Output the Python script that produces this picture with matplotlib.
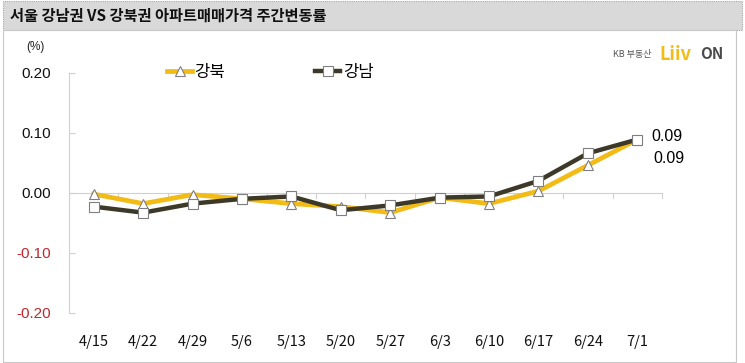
import matplotlib
matplotlib.use("Agg")
import matplotlib.pyplot as plt
from matplotlib.patches import Rectangle
import numpy as np

plt.rcParams['font.family'] = ['Noto Sans CJK KR', 'DejaVu Sans']

title = "서울 강남권 VS 강북권 아파트매매가격 주간변동률"
categories = ["4/15", "4/22", "4/29", "5/6", "5/13", "5/20", "5/27", "6/3", "6/10", "6/17", "6/24", "7/1"]
gangbuk = [-0.002, -0.018, -0.003, -0.010, -0.018, -0.023, -0.033, -0.008, -0.018, 0.003, 0.046, 0.089]
gangnam = [-0.023, -0.033, -0.018, -0.010, -0.006, -0.029, -0.021, -0.008, -0.006, 0.020, 0.066, 0.089]
yticks = [0.20, 0.10, 0.00, -0.10, -0.20]
ytick_labels = ["0.20", "0.10", "0.00", "-0.10", "-0.20"]
end_labels = ["0.09", "0.09"]  # 강남, 강북

YELLOW = "#F2BB16"
DARK = "#3D3928"

W, H = 745, 363
fig = plt.figure(figsize=(W / 100, H / 100), dpi=100)

# background frames
fig.patches.append(Rectangle((0.004, 1 - 30 / H), 0.992, 30 / H - 0.004, transform=fig.transFigure,
                             facecolor="#D9D9D9", edgecolor="#A6A6A6", linewidth=0.8, linestyle=(0, (1, 1)),
                             zorder=-5))
fig.patches.append(Rectangle((0.004, 0.003), 0.984, 1 - 30 / H - 0.003, transform=fig.transFigure,
                             facecolor="white", edgecolor="#C8C8C8", linewidth=0.8, zorder=-5))
fig.text(10 / W, 1 - 16 / H, title, fontsize=11, fontweight="bold", va="center", ha="left", color="#111111")

ax = fig.add_axes([69 / W, 1 - 312.7 / H, (662 - 69) / W, (312.7 - 73) / H])
ax.patch.set_alpha(0)
x = np.arange(len(categories))
ax.set_xlim(-0.5, len(categories) - 0.5)
ax.set_ylim(-0.20, 0.20)

for s in ["top", "right", "bottom"]:
    ax.spines[s].set_visible(False)
ax.spines["left"].set_color("#D0D0D0")
ax.spines["left"].set_linewidth(0.8)

ax.axhline(0, color="#D0D0D0", linewidth=0.8, zorder=1)
for b in np.arange(len(categories) + 1) - 0.5:
    ax.plot([b, b], [0, -0.008], color="#D0D0D0", linewidth=0.8, zorder=1, clip_on=False)

ax.plot(x, gangbuk, color=YELLOW, linewidth=3.4, marker="^", markersize=7,
        markerfacecolor="white", markeredgecolor="#7F7F7F", markeredgewidth=0.8, zorder=3, label="강북")
ax.plot(x, gangnam, color=DARK, linewidth=3.2, marker="s", markersize=6.5,
        markerfacecolor="white", markeredgecolor="#7F7F7F", markeredgewidth=0.8, zorder=4, label="강남")

ax.set_yticks(yticks)
ax.set_yticklabels(ytick_labels, fontfamily="Liberation Sans", fontsize=11)
for lbl, v in zip(ax.get_yticklabels(), yticks):
    lbl.set_color("#C0272D" if v < 0 else "#111111")
ax.tick_params(axis="y", direction="in", length=4, color="#D0D0D0", pad=13)

ax.set_xticks(x)
ax.set_xticklabels(categories, fontsize=10.5)
ax.tick_params(axis="x", length=0, pad=16, labelcolor="#111111")

ax.text(-0.057, 1.108, "(%)", transform=ax.transAxes, fontsize=8.5, fontfamily="Liberation Sans",
        ha="center", va="center", color="#222222")

ax.annotate(end_labels[0], (x[-1], gangnam[-1]), xytext=(10, 2.5), textcoords="offset points",
            fontsize=11.5, fontfamily="Liberation Sans", va="center", ha="left")
ax.annotate(end_labels[1], (x[-1], gangbuk[-1]), xytext=(11.5, -14), textcoords="offset points",
            fontsize=11.5, fontfamily="Liberation Sans", va="center", ha="left")

leg = ax.legend(loc="upper left", bbox_to_anchor=(0.14, 1.10), ncol=2, frameon=False,
                fontsize=12, handlelength=1.5, handletextpad=0.15, columnspacing=5.4)

# logo
fig.text(613 / W, 1 - 55 / H, "KB 부동산", fontsize=6.5, color="#555555", va="center", ha="left")
fig.text(659 / W, 1 - 54 / H, "Liiv", fontsize=13, fontweight="heavy", color="#F2BB16", va="center", ha="left")
fig.text(700 / W, 1 - 54 / H, "ON", fontsize=11, fontweight="heavy", color="#4A4A4A", va="center", ha="left")

fig.savefig("out.png", dpi=100)
